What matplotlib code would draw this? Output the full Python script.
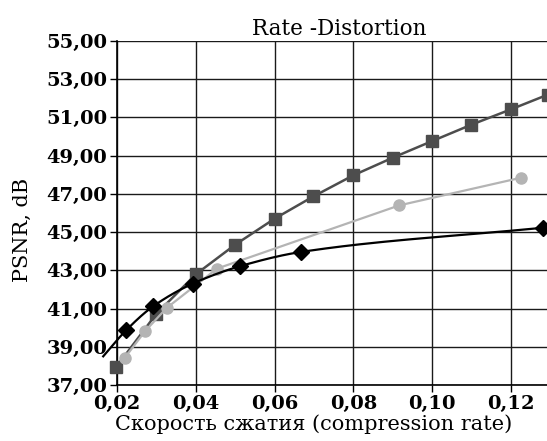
import numpy as np
import matplotlib
matplotlib.use("Agg")
import matplotlib.pyplot as plt
from matplotlib.ticker import FuncFormatter

# dark grey squares
sq_x = [0.0198, 0.0299, 0.040, 0.050, 0.060, 0.0699, 0.080, 0.090, 0.100, 0.110, 0.120, 0.1295]
sq_y = [37.94, 40.70, 42.79, 44.34, 45.70, 46.87, 47.97, 48.89, 49.76, 50.62, 51.42, 52.20]

# light grey circles
ci_x = [0.0220, 0.0271, 0.0326, 0.0454, 0.0917, 0.1227]
ci_y = [38.43, 39.81, 41.03, 43.09, 46.40, 47.85]

# black diamonds (curve starts a bit before the first marker)
di_x = [0.0223, 0.0292, 0.0392, 0.0513, 0.0667, 0.1282]
di_y = [39.86, 41.12, 42.30, 43.22, 43.96, 45.23]
curve_start = (0.0165, 38.5)

xticks = [0.02, 0.04, 0.06, 0.08, 0.10, 0.12]
yticks = [37, 39, 41, 43, 45, 47, 49, 51, 53, 55]


def smooth(xs, ys, n=30):
    # monotone cubic hermite through the points, only to draw a smooth line
    x = np.asarray(xs, float)
    y = np.asarray(ys, float)
    h = np.diff(x)
    d = np.diff(y) / h
    m = np.zeros_like(y)
    m[0], m[-1] = d[0], d[-1]
    for k in range(1, len(x) - 1):
        if d[k - 1] * d[k] > 0:
            w1 = 2 * h[k] + h[k - 1]
            w2 = h[k] + 2 * h[k - 1]
            m[k] = (w1 + w2) / (w1 / d[k - 1] + w2 / d[k])
    px, py = [], []
    for k in range(len(x) - 1):
        t = np.linspace(0, 1, n)
        h00 = 2 * t ** 3 - 3 * t ** 2 + 1
        h10 = t ** 3 - 2 * t ** 2 + t
        h01 = -2 * t ** 3 + 3 * t ** 2
        h11 = t ** 3 - t ** 2
        px.append(x[k] + t * h[k])
        py.append(h00 * y[k] + h10 * h[k] * m[k] + h01 * y[k + 1] + h11 * h[k] * m[k + 1])
    return np.concatenate(px), np.concatenate(py)


plt.rcParams['font.family'] = 'DejaVu Serif'

fig = plt.figure(figsize=(5.47, 4.41), dpi=100)
ax = fig.add_axes([117 / 547, 1 - 385 / 441, 430 / 547, 344 / 441])

ax.plot(sq_x, sq_y, color='#4d4d4d', lw=1.8, marker='s', ms=8.5, clip_on=False, zorder=3)
ax.plot(ci_x, ci_y, color='#b4b4b4', lw=1.6, marker='o', ms=8, clip_on=False, zorder=3)
bx, by = smooth([curve_start[0]] + di_x, [curve_start[1]] + di_y)
ax.plot(bx, by, color='black', lw=1.6, clip_on=False, zorder=4)
ax.plot(di_x, di_y, ls='none', color='black', marker='D', ms=8, clip_on=False, zorder=4)

ax.set_xlim(0.02, 0.1292)
ax.set_ylim(37, 55)
ax.set_xticks(xticks)
ax.set_yticks(yticks)
ax.xaxis.set_major_formatter(FuncFormatter(lambda v, p: f"{v:.2f}".replace('.', ',')))
ax.yaxis.set_major_formatter(FuncFormatter(lambda v, p: f"{v:.2f}".replace('.', ',')))
ax.grid(True, color='#1a1a1a', lw=1.0)
ax.set_axisbelow(True)
for s in ['top', 'right']:
    ax.spines[s].set_visible(False)
ax.spines['left'].set_linewidth(1.2)
ax.spines['bottom'].set_linewidth(1.2)
ax.tick_params(direction='out', length=5, width=1.0, labelsize=14, pad=2)
for lab in ax.get_xticklabels() + ax.get_yticklabels():
    lab.set_fontweight('bold')

ax.set_title('Rate -Distortion', fontsize=15.5, pad=4, x=(339 - 117) / 430)
ax.set_xlabel('Скорость сжатия (compression rate)', fontsize=15, labelpad=0)
ax.xaxis.set_label_coords((314 - 117) / 430, -0.085)
ax.set_ylabel('PSNR, dB', fontsize=15)
ax.yaxis.set_label_coords(-0.198, (385 - 230) / 344)

fig.savefig('out.png', dpi=100)
